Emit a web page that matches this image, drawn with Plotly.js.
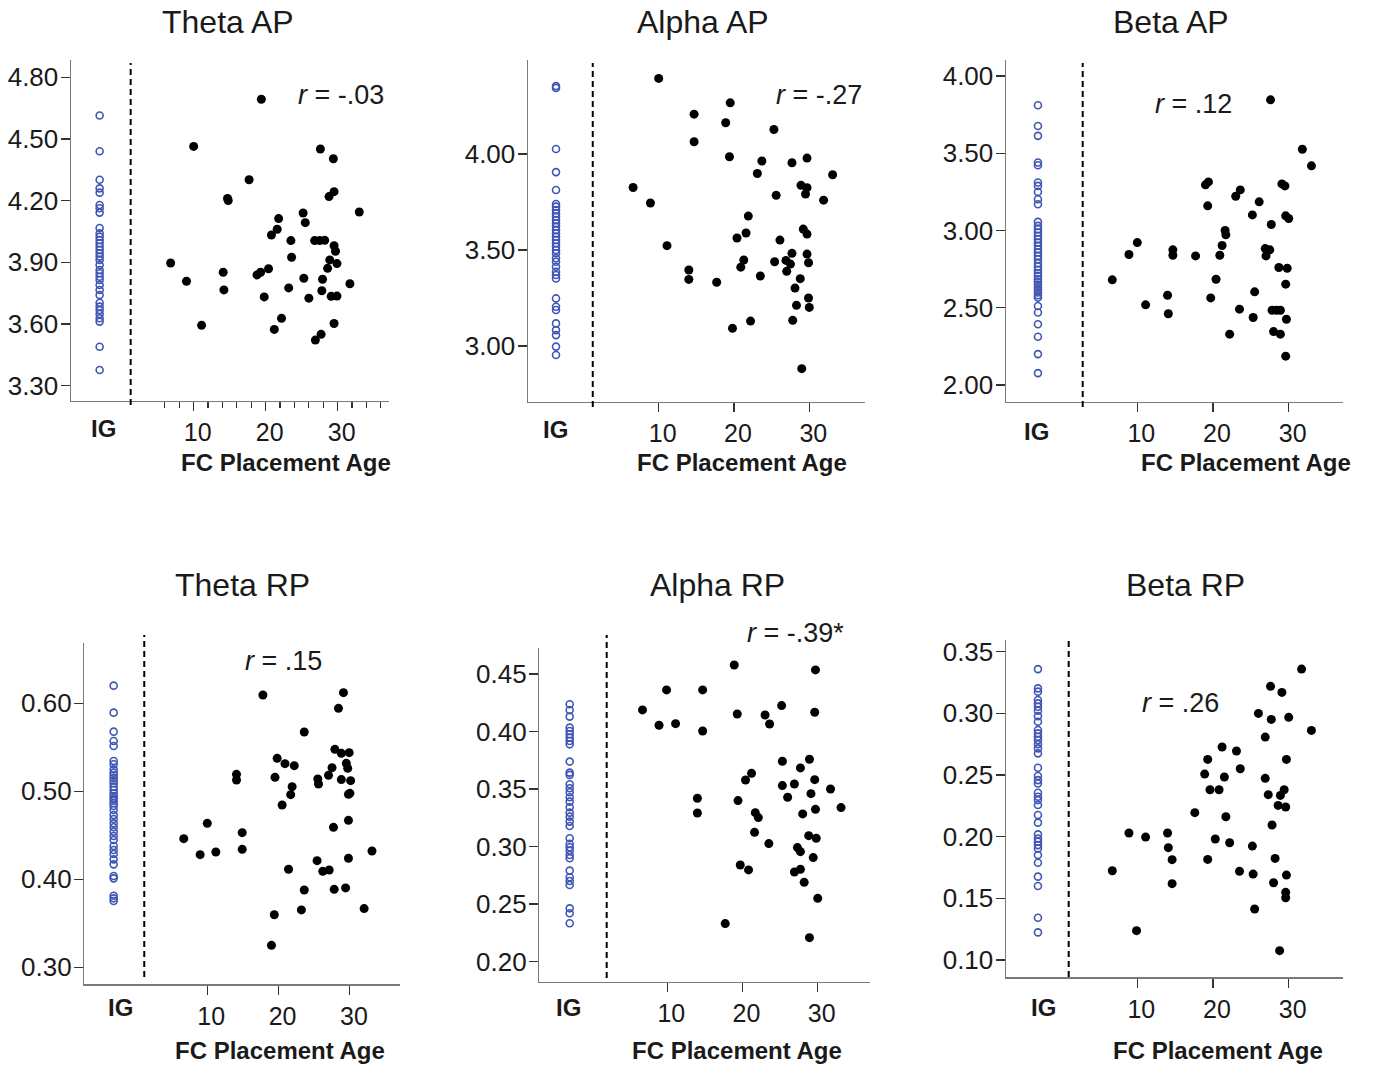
<!DOCTYPE html>
<html>
<head>
<meta charset="utf-8">
<script src="https://cdn.plot.ly/plotly-3.0.1.min.js"></script>
<style>html,body{margin:0;padding:0;background:#fff;}#chart{width:1373px;height:1067px;}</style>
</head>
<body>
<div id="chart"></div>
<script>
// ---------------- DATA ----------------
const panelTitles = ['Theta AP', 'Alpha AP', 'Beta AP', 'Theta RP', 'Alpha RP', 'Beta RP'];
const rLabels = ['-.03', '-.27', '.12', '.15', '-.39*', '.26'];
const groupLabel = 'IG';
const xAxisTitle = 'FC Placement Age';
const xTickVals = [10, 20, 30];
const xMinorTickVals = [6, 8, 12, 14, 16, 18, 22, 24, 26, 28, 32, 34, 36];
const yTicksThetaAP = [3.30, 3.60, 3.90, 4.20, 4.50, 4.80];
const yTicksAlphaAP = [3.00, 3.50, 4.00];
const yTicksBetaAP = [2.00, 2.50, 3.00, 3.50, 4.00];
const yTicksThetaRP = [0.30, 0.40, 0.50, 0.60];
const yTicksAlphaRP = [0.20, 0.25, 0.30, 0.35, 0.40, 0.45];
const yTicksBetaRP = [0.10, 0.15, 0.20, 0.25, 0.30, 0.35];

// Theta AP
const thetaAP_age = [19.4, 10.0, 27.6, 29.4, 17.7, 14.7, 14.8, 29.5, 28.8, 33.0, 25.2, 21.8, 25.5, 21.6, 20.8, 23.5, 26.8, 27.5, 28.2, 29.5, 29.7, 23.6, 6.8, 28.9, 29.9, 20.4, 28.6, 14.1, 19.3, 18.8, 9.0, 25.3, 27.9, 31.7, 14.2, 23.2, 19.8, 26.0, 27.8, 29.1, 29.9, 11.1, 22.2, 21.2, 29.5, 26.9, 27.7];
const thetaAP_val = [4.693, 4.464, 4.451, 4.404, 4.302, 4.211, 4.201, 4.244, 4.220, 4.145, 4.140, 4.113, 4.093, 4.061, 4.033, 4.006, 4.006, 4.006, 4.007, 3.981, 3.954, 3.925, 3.897, 3.912, 3.894, 3.869, 3.871, 3.852, 3.852, 3.839, 3.808, 3.823, 3.818, 3.796, 3.766, 3.776, 3.732, 3.726, 3.762, 3.735, 3.736, 3.594, 3.628, 3.574, 3.603, 3.522, 3.550];
const thetaAP_ig = [4.614, 4.440, 4.302, 4.260, 4.239, 4.179, 4.163, 4.142, 4.067, 4.041, 4.025, 4.009, 3.993, 3.976, 3.960, 3.944, 3.928, 3.912, 3.887, 3.863, 3.847, 3.830, 3.814, 3.790, 3.766, 3.741, 3.704, 3.685, 3.668, 3.649, 3.628, 3.612, 3.490, 3.377];

// Alpha AP
const alphaAP_age = [10.0, 19.5, 14.7, 18.9, 25.3, 14.7, 19.4, 23.7, 27.7, 29.7, 23.1, 33.1, 6.6, 28.9, 29.7, 25.6, 29.5, 31.9, 8.9, 21.9, 11.1, 20.4, 21.6, 26.1, 29.2, 29.7, 14.0, 14.0, 17.7, 21.3, 20.9, 23.5, 25.4, 26.9, 27.5, 27.0, 27.7, 29.7, 29.9, 28.8, 28.1, 29.9, 28.3, 30.0, 27.8, 22.2, 19.8, 29.0];
const alphaAP_val = [4.394, 4.267, 4.208, 4.163, 4.128, 4.064, 3.986, 3.964, 3.955, 3.979, 3.899, 3.892, 3.826, 3.837, 3.825, 3.785, 3.792, 3.760, 3.745, 3.677, 3.523, 3.563, 3.589, 3.552, 3.609, 3.583, 3.396, 3.347, 3.332, 3.448, 3.411, 3.365, 3.439, 3.446, 3.427, 3.389, 3.483, 3.479, 3.434, 3.351, 3.302, 3.250, 3.212, 3.201, 3.134, 3.130, 3.092, 2.882];
const alphaAP_ig = [4.354, 4.344, 4.026, 3.906, 3.813, 3.740, 3.726, 3.708, 3.691, 3.674, 3.656, 3.639, 3.622, 3.604, 3.587, 3.569, 3.552, 3.535, 3.517, 3.500, 3.483, 3.457, 3.439, 3.413, 3.387, 3.370, 3.352, 3.248, 3.205, 3.188, 3.118, 3.083, 3.057, 2.997, 2.953];

// Beta AP
const betaAP_age = [27.6, 31.8, 33.0, 19.0, 19.4, 29.1, 29.5, 23.6, 23.0, 26.1, 19.3, 25.2, 29.6, 30.0, 27.7, 21.6, 21.7, 10.0, 21.2, 8.9, 14.7, 14.7, 17.7, 20.9, 26.9, 27.5, 27.0, 28.7, 29.8, 6.7, 20.4, 29.6, 25.5, 14.0, 11.1, 19.7, 14.1, 23.5, 25.3, 27.8, 28.4, 28.9, 29.7, 22.2, 28.0, 28.9, 29.6];
const betaAP_val = [3.846, 3.526, 3.419, 3.296, 3.315, 3.302, 3.289, 3.263, 3.222, 3.186, 3.160, 3.101, 3.095, 3.078, 3.039, 3.000, 2.972, 2.922, 2.903, 2.845, 2.875, 2.840, 2.836, 2.840, 2.883, 2.875, 2.836, 2.761, 2.756, 2.681, 2.685, 2.653, 2.603, 2.581, 2.519, 2.564, 2.461, 2.491, 2.437, 2.484, 2.484, 2.484, 2.426, 2.329, 2.346, 2.329, 2.187];
const betaAP_ig = [3.811, 3.677, 3.613, 3.440, 3.423, 3.311, 3.289, 3.250, 3.203, 3.170, 3.056, 3.030, 3.009, 2.987, 2.965, 2.944, 2.922, 2.901, 2.879, 2.858, 2.836, 2.814, 2.789, 2.767, 2.745, 2.724, 2.707, 2.685, 2.668, 2.650, 2.633, 2.616, 2.599, 2.581, 2.566, 2.512, 2.469, 2.393, 2.312, 2.200, 2.077];

// Theta RP
const thetaRP_age = [17.8, 29.1, 28.4, 23.6, 19.8, 20.9, 22.2, 14.1, 14.1, 19.5, 21.9, 21.7, 20.5, 27.9, 28.8, 29.9, 29.5, 29.7, 27.5, 27.0, 25.5, 25.6, 28.8, 30.1, 29.8, 30.0, 29.8, 27.7, 10.0, 6.7, 14.9, 9.0, 11.2, 14.9, 33.1, 25.4, 29.8, 21.4, 26.2, 27.1, 23.6, 27.8, 29.4, 23.2, 32.0, 19.4, 19.0];
const thetaRP_val = [0.6095, 0.6121, 0.5943, 0.5674, 0.5375, 0.5314, 0.5292, 0.5193, 0.5129, 0.5159, 0.5053, 0.4962, 0.4845, 0.5477, 0.5432, 0.5439, 0.5318, 0.5261, 0.5269, 0.5182, 0.5140, 0.5083, 0.5133, 0.5121, 0.4966, 0.4977, 0.4670, 0.4591, 0.4636, 0.4462, 0.4530, 0.4280, 0.4311, 0.4341, 0.4322, 0.4212, 0.4239, 0.4114, 0.4091, 0.4106, 0.3879, 0.3886, 0.3902, 0.3652, 0.3667, 0.3598, 0.3250];
const thetaRP_ig = [0.6201, 0.5894, 0.5678, 0.5572, 0.5515, 0.5345, 0.5307, 0.5250, 0.5212, 0.5182, 0.5152, 0.5121, 0.5091, 0.5053, 0.5015, 0.4977, 0.4947, 0.4920, 0.4894, 0.4864, 0.4833, 0.4788, 0.4731, 0.4686, 0.4636, 0.4591, 0.4542, 0.4492, 0.4447, 0.4379, 0.4333, 0.4288, 0.4227, 0.4170, 0.4038, 0.4011, 0.3814, 0.3784, 0.3754];

// Alpha RP
const alphaRP_age = [18.9, 29.7, 9.9, 14.7, 6.7, 8.9, 11.1, 14.7, 19.3, 23.0, 23.6, 25.2, 29.6, 28.9, 25.3, 27.7, 21.2, 20.4, 29.6, 25.3, 26.9, 31.7, 29.1, 26.0, 14.0, 19.4, 33.1, 29.7, 14.0, 21.7, 22.1, 28.0, 21.6, 28.8, 29.8, 23.5, 27.3, 27.7, 29.4, 19.7, 20.8, 26.9, 27.7, 28.2, 30.0, 17.7, 28.9];
const alphaRP_val = [0.4578, 0.4535, 0.4361, 0.4361, 0.4187, 0.4054, 0.4068, 0.4004, 0.4152, 0.4143, 0.4065, 0.4225, 0.4167, 0.3758, 0.3741, 0.3683, 0.3636, 0.3578, 0.3581, 0.3529, 0.3543, 0.3500, 0.3459, 0.3428, 0.3419, 0.3399, 0.3338, 0.3323, 0.3291, 0.3294, 0.3251, 0.3283, 0.3123, 0.3094, 0.3071, 0.3025, 0.2990, 0.2955, 0.2903, 0.2839, 0.2796, 0.2778, 0.2801, 0.2688, 0.2549, 0.2329, 0.2207];
const alphaRP_ig = [0.4236, 0.4187, 0.4129, 0.4033, 0.4004, 0.3975, 0.3946, 0.3917, 0.3888, 0.3738, 0.3642, 0.3622, 0.3541, 0.3506, 0.3471, 0.3428, 0.3390, 0.3341, 0.3294, 0.3259, 0.3216, 0.3178, 0.3071, 0.3022, 0.2993, 0.2964, 0.2926, 0.2897, 0.2790, 0.2732, 0.2700, 0.2665, 0.2462, 0.2419, 0.2332];

// Beta RP
const betaRP_age = [31.7, 27.6, 29.1, 26.0, 27.7, 30.0, 33.0, 26.9, 21.2, 23.1, 19.3, 29.7, 23.6, 18.9, 21.5, 26.9, 19.6, 20.8, 29.4, 27.3, 28.9, 28.6, 29.6, 17.6, 21.7, 27.8, 8.9, 14.0, 11.1, 20.3, 22.2, 25.2, 14.1, 14.6, 19.3, 28.2, 6.7, 23.5, 25.3, 29.7, 14.6, 28.0, 29.6, 29.6, 25.5, 9.9, 28.8];
const betaRP_val = [0.3359, 0.3219, 0.3170, 0.3000, 0.2951, 0.2968, 0.2862, 0.2808, 0.2727, 0.2695, 0.2627, 0.2627, 0.2551, 0.2508, 0.2484, 0.2473, 0.2381, 0.2381, 0.2381, 0.2341, 0.2335, 0.2254, 0.2241, 0.2195, 0.2162, 0.2095, 0.2030, 0.2030, 0.1997, 0.1981, 0.1951, 0.1924, 0.1911, 0.1814, 0.1816, 0.1824, 0.1724, 0.1719, 0.1697, 0.1689, 0.1619, 0.1627, 0.1549, 0.1505, 0.1414, 0.1238, 0.1076];
const betaRP_ig = [0.3359, 0.3203, 0.3176, 0.3108, 0.3081, 0.3054, 0.3022, 0.2978, 0.2932, 0.2865, 0.2838, 0.2811, 0.2784, 0.2751, 0.2716, 0.2676, 0.2559, 0.2492, 0.2459, 0.2432, 0.2357, 0.2324, 0.2297, 0.2257, 0.2176, 0.2114, 0.2019, 0.1986, 0.1959, 0.1932, 0.1905, 0.1851, 0.1789, 0.1676, 0.1600, 0.1343, 0.1224];

// ---------------- LAYOUT CONFIG ----------------
const W = 1373, H = 1067;
const FONT = 'Liberation Sans, Arial, Helvetica, sans-serif';
const TXT = '#1a1a1a';
const IGCOL = '#3f56b5';

const panels = [
  {age: thetaAP_age, val: thetaAP_val, ig: thetaAP_ig, yt: yTicksThetaAP, L: 70.7, R: 389, B: 401, T: 60, xr: [-7.08, 37.13], yr: [3.226, 4.884], igx: -3.06, dx: 1.25, dy: [63, 405],
   title: [227.5, 22], xt: [286, 462], igl: [103, 428], rl: [341, 95], minor: true},
  {age: alphaAP_age, val: alphaAP_val, ig: alphaAP_ig, yt: yTicksAlphaAP, L: 527.7, R: 865, B: 401.7, T: 60, xr: [-7.40, 37.40], yr: [2.710, 4.490], igx: -3.64, dx: 1.24, dy: [63, 407],
   title: [703, 22], xt: [742, 462], igl: [555, 429], rl: [819, 95]},
  {age: betaAP_age, val: betaAP_val, ig: betaAP_ig, yt: yTicksBetaAP, L: 1005.7, R: 1343, B: 401.7, T: 60, xr: [-7.38, 37.17], yr: [1.892, 4.104], igx: -3.12, dx: 2.79, dy: [63, 407],
   title: [1171, 22], xt: [1245.5, 462], igl: [1036, 431], rl: [1193, 104]},
  {age: thetaRP_age, val: thetaRP_val, ig: thetaRP_ig, yt: yTicksThetaRP, L: 84, R: 400, B: 984.3, T: 642.7, xr: [-7.29, 37.03], yr: [0.2807, 0.6689], igx: -3.13, dx: 1.16, dy: [635, 977],
   title: [242, 585], xt: [280, 1050], igl: [120, 1007], rl: [283, 661]},
  {age: alphaRP_age, val: alphaRP_val, ig: alphaRP_ig, yt: yTicksAlphaRP, L: 539, R: 870, B: 981.7, T: 648.3, xr: [-7.06, 36.95], yr: [0.1824, 0.4723], igx: -2.98, dx: 1.94, dy: [635, 978],
   title: [717.5, 585], xt: [737, 1050], igl: [568, 1007], rl: [795, 633]},
  {age: betaRP_age, val: betaRP_val, ig: betaRP_ig, yt: yTicksBetaRP, L: 1005.7, R: 1343, B: 977.3, T: 640, xr: [-7.38, 37.17], yr: [0.0860, 0.3595], igx: -3.12, dx: 0.94, dy: [640, 977],
   title: [1185.5, 585], xt: [1218, 1050], igl: [1043, 1007], rl: [1180, 703]}
];

const px = x => x / W;
const py = y => 1 - y / H;

const data = [];
const layout = {
  width: W, height: H,
  margin: {l: 0, r: 0, t: 0, b: 0},
  paper_bgcolor: '#fff', plot_bgcolor: '#fff',
  showlegend: false,
  font: {family: FONT, color: TXT, size: 25},
  shapes: [], annotations: []
};

panels.forEach((p, i) => {
  const n = i + 1;
  const xa = n === 1 ? 'x' : 'x' + n;
  const ya = n === 1 ? 'y' : 'y' + n;
  data.push({
    type: 'scatter', mode: 'markers', xaxis: xa, yaxis: ya,
    x: p.ig.map(() => p.igx), y: p.ig,
    marker: {symbol: 'circle-open', size: 7, color: IGCOL, line: {width: 1.6, color: IGCOL}},
    hoverinfo: 'skip'
  });
  data.push({
    type: 'scatter', mode: 'markers', xaxis: xa, yaxis: ya,
    x: p.age, y: p.val,
    marker: {symbol: 'circle', size: 9, color: '#000'},
    hoverinfo: 'skip'
  });
  const xkey = n === 1 ? 'xaxis' : 'xaxis' + n;
  const ykey = n === 1 ? 'yaxis' : 'yaxis' + n;
  layout[xkey] = {
    domain: [px(p.L), px(p.R)], range: p.xr, anchor: ya,
    showline: true, linecolor: '#7a7a7a', linewidth: 1.2,
    showgrid: false, zeroline: false,
    tickmode: 'array', tickvals: xTickVals, ticktext: xTickVals.map(String),
    ticks: 'outside', ticklen: 9, tickwidth: 1.2, tickcolor: '#333',
    ticklabelshift: 4,
    tickfont: {family: FONT, size: 25, color: TXT}
  };
  if (p.minor) {
    layout[xkey].minor = {tickmode: 'array', tickvals: xMinorTickVals, ticks: 'outside', ticklen: 6, tickwidth: 1.2, tickcolor: '#333'};
  }
  layout[ykey] = {
    domain: [py(p.B), py(p.T)], range: p.yr, anchor: xa,
    showline: true, linecolor: '#7a7a7a', linewidth: 1.2,
    showgrid: false, zeroline: false,
    tickmode: 'array', tickvals: p.yt, tickformat: '.2f',
    ticks: 'outside', ticklen: 9, tickwidth: 1.2, tickcolor: '#333',
    ticklabelstandoff: -3,
    tickfont: {family: FONT, size: 26, color: TXT}
  };
  layout.shapes.push({
    type: 'line', xref: xa, yref: 'paper', x0: p.dx, x1: p.dx, y0: py(p.dy[1]), y1: py(p.dy[0]),
    line: {color: '#000', width: 2, dash: '6px,4px'}
  });
  const ann = (text, pos, size, bold) => layout.annotations.push({
    xref: 'paper', yref: 'paper', x: px(pos[0]), y: py(pos[1]), xanchor: 'center', yanchor: 'middle',
    text: bold ? '<b>' + text + '</b>' : text, showarrow: false,
    font: {family: FONT, size: size, color: TXT}
  });
  ann(panelTitles[i], p.title, 32, false);
  ann(xAxisTitle, p.xt, 24, true);
  ann(groupLabel, p.igl, 24, true);
  ann('<i>r</i> = ' + rLabels[i], p.rl, 27, false);
});

Plotly.newPlot('chart', data, layout, {staticPlot: true, displayModeBar: false});
</script>
</body>
</html>
